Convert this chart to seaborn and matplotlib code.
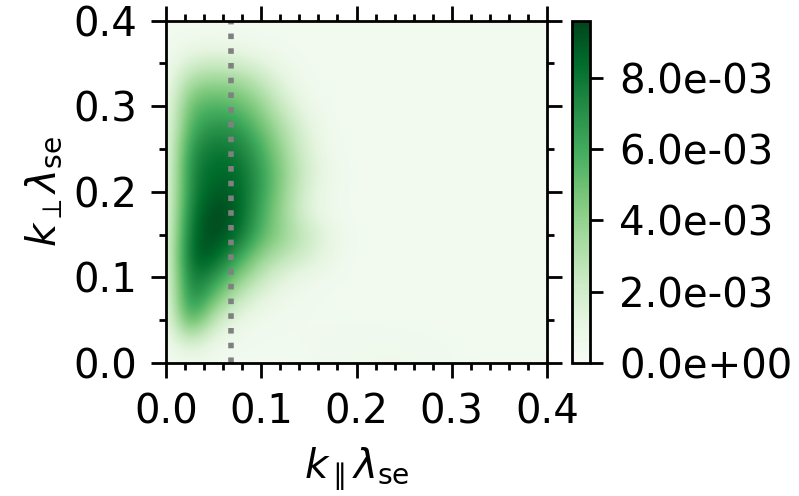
import numpy as np
import matplotlib
matplotlib.use("Agg")
import matplotlib.pyplot as plt
from matplotlib.ticker import MultipleLocator
import seaborn as sns

# grid positions (k_par, k_perp) in units of lambda_se
k_par = [0.0, 0.025, 0.05, 0.075, 0.1, 0.125, 0.15, 0.175, 0.2,
         0.225, 0.25, 0.275, 0.3, 0.325, 0.35, 0.375, 0.4]
k_perp = [0.0, 0.025, 0.05, 0.075, 0.1, 0.125, 0.15, 0.175, 0.2,
          0.225, 0.25, 0.275, 0.3, 0.325, 0.35, 0.375, 0.4]

# density, units of 1e-3, one list per k_perp row
row_000 = [0.3, 0.4, 0.35, 0.3, 0.3, 0.3, 0.35, 0.4, 0.5, 0.55, 0.55, 0.5, 0.4, 0.3, 0.3, 0.3, 0.3]
row_025 = [0.3, 2.5, 0.8, 0.45, 0.35, 0.35, 0.4, 0.45, 0.5, 0.5, 0.5, 0.4, 0.35, 0.3, 0.3, 0.3, 0.3]
row_050 = [0.3, 6.5, 2.5, 1.0, 0.5, 0.4, 0.35, 0.35, 0.35, 0.3, 0.3, 0.3, 0.3, 0.3, 0.3, 0.3, 0.3]
row_075 = [0.3, 8.0, 5.0, 2.5, 1.2, 0.6, 0.4, 0.3, 0.3, 0.3, 0.3, 0.3, 0.3, 0.3, 0.3, 0.3, 0.3]
row_100 = [0.3, 8.5, 7.0, 4.5, 2.5, 1.2, 0.7, 0.4, 0.3, 0.3, 0.3, 0.3, 0.3, 0.3, 0.3, 0.3, 0.3]
row_125 = [0.4, 9.0, 9.0, 6.5, 4.0, 2.8, 1.8, 0.8, 0.3, 0.3, 0.3, 0.3, 0.3, 0.3, 0.3, 0.3, 0.3]
row_150 = [0.4, 8.5, 9.6, 8.5, 5.5, 3.8, 2.3, 0.9, 0.3, 0.3, 0.3, 0.3, 0.3, 0.3, 0.3, 0.3, 0.3]
row_175 = [0.4, 8.0, 9.6, 9.0, 6.0, 3.5, 1.3, 0.5, 0.3, 0.3, 0.3, 0.3, 0.3, 0.3, 0.3, 0.3, 0.3]
row_200 = [0.4, 7.5, 9.0, 8.8, 6.5, 3.8, 1.5, 0.5, 0.3, 0.3, 0.3, 0.3, 0.3, 0.3, 0.3, 0.3, 0.3]
row_225 = [0.4, 7.5, 8.5, 8.5, 6.5, 4.0, 1.8, 0.6, 0.3, 0.3, 0.3, 0.3, 0.3, 0.3, 0.3, 0.3, 0.3]
row_250 = [0.4, 7.0, 8.0, 7.8, 6.0, 3.5, 1.5, 0.4, 0.3, 0.3, 0.3, 0.3, 0.3, 0.3, 0.3, 0.3, 0.3]
row_275 = [0.4, 6.0, 7.0, 6.8, 5.0, 3.0, 1.2, 0.35, 0.3, 0.3, 0.3, 0.3, 0.3, 0.3, 0.3, 0.3, 0.3]
row_300 = [0.4, 5.3, 5.7, 5.4, 4.0, 2.0, 0.7, 0.3, 0.3, 0.3, 0.3, 0.3, 0.3, 0.3, 0.3, 0.3, 0.3]
row_325 = [0.35, 3.8, 4.2, 4.0, 2.8, 1.2, 0.4, 0.3, 0.3, 0.3, 0.3, 0.3, 0.3, 0.3, 0.3, 0.3, 0.3]
row_350 = [0.3, 1.9, 2.2, 2.0, 1.3, 0.6, 0.3, 0.3, 0.3, 0.3, 0.3, 0.3, 0.3, 0.3, 0.3, 0.3, 0.3]
row_375 = [0.3, 0.5, 0.6, 0.5, 0.4, 0.3, 0.3, 0.3, 0.3, 0.3, 0.3, 0.3, 0.3, 0.3, 0.3, 0.3, 0.3]
row_400 = [0.3, 0.3, 0.3, 0.3, 0.3, 0.3, 0.3, 0.3, 0.3, 0.3, 0.3, 0.3, 0.3, 0.3, 0.3, 0.3, 0.3]

k_par_ref = 0.068
cbar_ticks = [0.0, 2e-3, 4e-3, 6e-3, 8e-3]
vmax = 9.6e-3

sns.set_style("ticks")
plt.rcParams['font.family'] = ['DejaVu Sans']
plt.rcParams['mathtext.fontset'] = 'dejavusans'
for key in ['text.color', 'axes.labelcolor', 'xtick.color', 'ytick.color', 'axes.edgecolor']:
    plt.rcParams[key] = 'black'
fs = 29

rows = [row_000, row_025, row_050, row_075, row_100, row_125, row_150, row_175, row_200,
        row_225, row_250, row_275, row_300, row_325, row_350, row_375, row_400]
dens = np.array(rows) * 1e-3

dx = (k_par[1] - k_par[0]) / 2
dy = (k_perp[1] - k_perp[0]) / 2
cmap = sns.color_palette("Greens", as_cmap=True)

fig = plt.figure(figsize=(7.99, 4.96), dpi=100)
ax = fig.add_axes([0.2078, 0.268, 0.4768, 0.6904])
cax = fig.add_axes([0.716, 0.268, 0.0225, 0.6904])

im = ax.imshow(dens, origin='lower', cmap=cmap, vmin=0, vmax=vmax,
               extent=[k_par[0] - dx, k_par[-1] + dx, k_perp[0] - dy, k_perp[-1] + dy],
               aspect='auto', interpolation='bicubic')
ax.axvline(k_par_ref, color='#808080', ls=':', lw=4)
ax.set_xlim(0, 0.4)
ax.set_ylim(0, 0.4)

ax.xaxis.set_major_locator(MultipleLocator(0.1))
ax.xaxis.set_minor_locator(MultipleLocator(0.02))
ax.yaxis.set_major_locator(MultipleLocator(0.1))
ax.yaxis.set_minor_locator(MultipleLocator(0.05))
ax.tick_params(which='both', direction='out', top=True, right=True, labelsize=fs, width=2)
ax.tick_params(which='major', length=11, pad=10)
ax.tick_params(which='minor', length=5)
for s in ax.spines.values():
    s.set_linewidth(2)

ax.set_xlabel(r'$k_\parallel\lambda_{\rm se}$', fontsize=fs, labelpad=10)
ax.set_ylabel(r'$k_\perp\lambda_{\rm se}$', fontsize=fs, labelpad=6)

cb = fig.colorbar(im, cax=cax, ticks=cbar_ticks, format='%.1e')
cb.outline.set_linewidth(2)
cax.tick_params(labelsize=fs, width=2, length=9, pad=12)

fig.savefig("out.png", dpi=100)
